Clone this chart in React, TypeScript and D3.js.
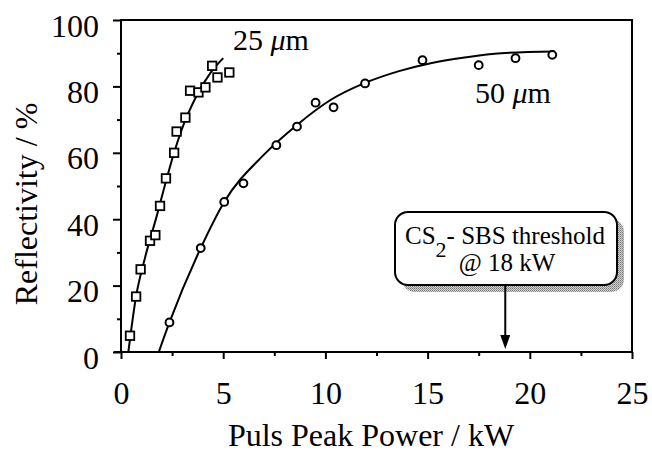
import { useRef, useEffect } from 'react'
import * as d3 from 'd3'

const W = 652
const H = 455
const PLOT = { left: 121, right: 632, top: 20, bottom: 352 }
const FONT = '"Liberation Serif", "Times New Roman", serif'

// measured points, 25 µm fibre (squares)
const p25 = [0.44, 0.74, 0.96, 1.42, 1.68, 1.91, 2.2, 2.6, 2.72, 3.15, 3.38, 3.79, 4.13, 4.46, 4.72, 5.3]
const r25 = [4.9, 16.7, 24.9, 33.5, 35.2, 44, 52.3, 60, 66.4, 70.6, 78.7, 78.2, 79.7, 86.2, 82.7, 84.2]

// measured points, 50 µm fibre (circles)
const p50 = [2.37, 3.9, 5.05, 5.99, 7.6, 8.61, 9.52, 10.4, 11.94, 14.75, 17.5, 19.3, 21.1]
const r50 = [8.9, 31.3, 45.2, 50.8, 62.3, 67.9, 75.1, 73.7, 80.9, 87.9, 86.4, 88.5, 89.5]

// fitted curves
const fit25P = [0.36, 0.73, 1.18, 1.75, 2.16, 2.57, 2.97, 3.7, 4.36, 5.0]
const fit25R = [0, 16.5, 28.5, 41, 50.5, 59.5, 67, 77.2, 83.9, 88.5]
const fit50P = [1.85, 2.37, 3.9, 5.05, 6.97, 8.61, 10.25, 11.88, 13.6, 15.15, 16.9, 18.6, 21.2]
const fit50R = [0, 8.9, 31.3, 45.2, 59.3, 68.4, 75.9, 80.9, 84.6, 87, 88.8, 90, 90.5]

const xTicks = [0, 5, 10, 15, 20, 25]
const xMinor = [2.5, 7.5, 12.5, 17.5, 22.5]
const yTicks = [0, 20, 40, 60, 80, 100]
const yMinor = [10, 30, 50, 70, 90]
const thresholdKW = 18.8

type Pt = [number, number]
const zip = (a: number[], b: number[]): Pt[] => a.map((v, i) => [v, b[i]])

export default function App() {
  const svgRef = useRef<SVGSVGElement>(null)

  useEffect(() => {
    document.body.style.margin = '0'
    if (!svgRef.current) return
    const svg = d3.select(svgRef.current)
    svg.selectAll('*').remove()

    const x = d3.scaleLinear().domain([0, 25]).range([PLOT.left, PLOT.right])
    const y = d3.scaleLinear().domain([0, 100]).range([PLOT.bottom, PLOT.top])

    svg.append('rect').attr('width', W).attr('height', H).attr('fill', '#fff')

    const defs = svg.append('defs')
    const pat = defs.append('pattern').attr('id', 'dither').attr('width', 2).attr('height', 2)
      .attr('patternUnits', 'userSpaceOnUse')
    pat.append('rect').attr('width', 2).attr('height', 2).attr('fill', '#d0d0d0')
    pat.append('rect').attr('width', 1).attr('height', 1).attr('fill', '#777')
    pat.append('rect').attr('x', 1).attr('y', 1).attr('width', 1).attr('height', 1).attr('fill', '#999')

    // frame
    svg.append('rect')
      .attr('x', PLOT.left).attr('y', PLOT.top)
      .attr('width', PLOT.right - PLOT.left).attr('height', PLOT.bottom - PLOT.top)
      .attr('fill', 'none').attr('stroke', '#000').attr('stroke-width', 2)

    // x axis
    const gx = svg.append('g').attr('transform', `translate(0,${PLOT.bottom})`)
    gx.call(d3.axisBottom(x).tickValues(xMinor).tickSize(4).tickFormat(() => ''))
      .call((g) => g.select('.domain').remove())
    gx.append('g').call(d3.axisBottom(x).tickValues(xTicks).tickSize(7).tickPadding(22).tickFormat(d3.format('d')))
      .call((g) => {
        g.select('.domain').remove()
        g.selectAll('text').attr('font-family', FONT).attr('font-size', 32).attr('fill', '#000')
      })
    gx.selectAll('.tick line').attr('stroke', '#000').attr('stroke-width', 2)
    gx.append('line').attr('x1', PLOT.left - 7).attr('x2', PLOT.right).attr('stroke', '#000').attr('stroke-width', 2)

    // y axis
    const gy = svg.append('g').attr('transform', `translate(${PLOT.left},0)`)
    gy.call(d3.axisLeft(y).tickValues(yMinor).tickSize(4).tickFormat(() => ''))
      .call((g) => g.select('.domain').remove())
    gy.append('g').call(d3.axisLeft(y).tickValues(yTicks).tickSize(8).tickPadding(14).tickFormat(d3.format('d')))
      .call((g) => {
        g.select('.domain').remove()
        g.selectAll('text').attr('font-family', FONT).attr('font-size', 32).attr('fill', '#000')
          .attr('dy', '0.5em')
      })
    gy.selectAll('.tick line').attr('stroke', '#000').attr('stroke-width', 2)

    // axis titles
    svg.append('text')
      .attr('x', 371).attr('y', 446).attr('text-anchor', 'middle')
      .attr('font-family', FONT).attr('font-size', 32)
      .text('Puls Peak Power / kW')
    svg.append('text')
      .attr('transform', 'translate(37,204) rotate(-90)').attr('text-anchor', 'middle')
      .attr('font-family', FONT).attr('font-size', 32)
      .text('Reflectivity / %')

    // fit curves
    const line = d3.line<Pt>().x((d) => x(d[0])).y((d) => y(d[1])).curve(d3.curveMonotoneX)
    svg.append('path').datum(zip(fit25P, fit25R)).attr('d', line)
      .attr('fill', 'none').attr('stroke', '#000').attr('stroke-width', 2)
    svg.append('path').datum(zip(fit50P, fit50R)).attr('d', line)
      .attr('fill', 'none').attr('stroke', '#000').attr('stroke-width', 2)

    // markers
    const s = 8.5
    svg.selectAll('.sq').data(zip(p25, r25)).join('rect').attr('class', 'sq')
      .attr('x', (d) => x(d[0]) - s / 2).attr('y', (d) => y(d[1]) - s / 2)
      .attr('width', s).attr('height', s)
      .attr('fill', '#fff').attr('stroke', '#000').attr('stroke-width', 1.8)
    svg.selectAll('.ci').data(zip(p50, r50)).join('circle').attr('class', 'ci')
      .attr('cx', (d) => x(d[0])).attr('cy', (d) => y(d[1])).attr('r', 3.9)
      .attr('fill', '#fff').attr('stroke', '#000').attr('stroke-width', 2)

    // series labels
    const lab = (tx: number, ty: number, num: string) => {
      const t = svg.append('text').attr('x', tx).attr('y', ty)
        .attr('font-family', FONT).attr('font-size', 30)
      t.append('tspan').text(num + ' ')
      t.append('tspan').attr('font-style', 'italic').text('μ')
      t.append('tspan').text('m')
    }
    lab(233, 50, '25')
    lab(475, 103, '50')

    // threshold callout
    const bx = 395, by = 212, bw = 222, bh = 73
    svg.append('rect').attr('x', bx + 7).attr('y', by + 7).attr('width', bw).attr('height', bh)
      .attr('rx', 13).attr('fill', 'url(#dither)')
    svg.append('rect').attr('x', bx).attr('y', by).attr('width', bw).attr('height', bh)
      .attr('rx', 13).attr('fill', '#fff').attr('stroke', '#000').attr('stroke-width', 2)
    const t1 = svg.append('text').attr('x', 405).attr('y', 244)
      .attr('font-family', FONT).attr('font-size', 25)
    t1.append('tspan').text('CS')
    t1.append('tspan').attr('dy', 13).attr('font-size', 22).text('2')
    t1.append('tspan').attr('dy', -13).text('- SBS threshold')
    svg.append('text').attr('x', 507).attr('y', 271).attr('text-anchor', 'middle')
      .attr('font-family', FONT).attr('font-size', 25).text('@ 18 kW')

    const ax = x(thresholdKW)
    svg.append('line').attr('x1', ax).attr('x2', ax).attr('y1', by + bh).attr('y2', PLOT.bottom - 14)
      .attr('stroke', '#000').attr('stroke-width', 2)
    svg.append('path')
      .attr('d', `M${ax - 5},${PLOT.bottom - 17} L${ax + 5},${PLOT.bottom - 17} L${ax},${PLOT.bottom - 3} Z`)
      .attr('fill', '#000')
  }, [])

  return <svg ref={svgRef} width={W} height={H} style={{ display: 'block' }} />
}
